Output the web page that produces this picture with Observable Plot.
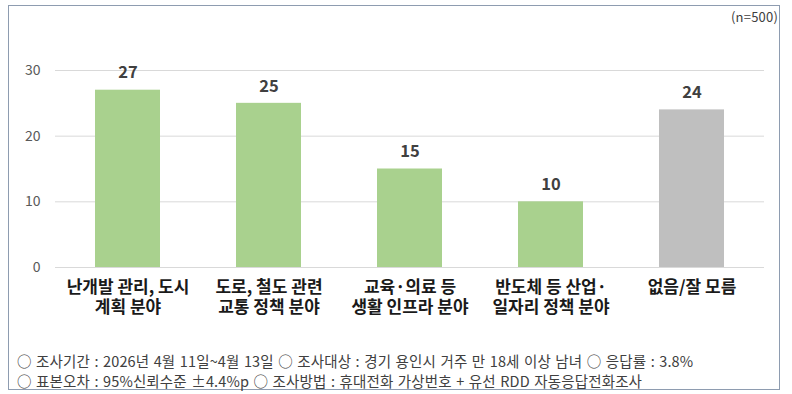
<!DOCTYPE html>
<html>
<head>
<meta charset="utf-8">
<script src="https://cdn.jsdelivr.net/npm/d3@7"></script>
<script src="https://cdn.jsdelivr.net/npm/@observablehq/plot@0.6"></script>
<style>
  html, body { margin: 0; padding: 0; background: #fff; }
  body { width: 792px; height: 394px; position: relative; overflow: hidden;
         font-family: "Noto Sans CJK KR", "Noto Sans", sans-serif; }
  #frame { position: absolute; left: 8px; top: 5px; width: 770px; height: 383px;
           border: 1.5px solid #8e9cb0; box-sizing: content-box; }
  #chart { position: absolute; left: 0; top: 0; }
  #n { position: absolute; right: 14px; top: 7px; font-size: 13px; color: #404040; letter-spacing: 0.2px; }
  .foot { position: absolute; left: 17px; font-size: 14.5px; color: #404040; white-space: nowrap;
          letter-spacing: 0.15px; word-spacing: 1px; line-height: 20px; }
</style>
</head>
<body>
<div id="frame"></div>
<div id="chart"></div>
<div id="n"></div>
<div class="foot" id="f1" style="top:351px"></div>
<div class="foot" id="f2" style="top:371px"></div>
<script>
const categories = [
  "난개발 관리, 도시\n계획 분야",
  "도로, 철도 관련\n교통 정책 분야",
  "교육·의료 등\n생활 인프라 분야",
  "반도체 등 산업·\n일자리 정책 분야",
  "없음/잘 모름"
];
const values = [27, 25, 15, 10, 24];
const yTicks = [0, 10, 20, 30];
const sampleNote = "(n=500)";
const footLines = [
  "○ 조사기간 : 2026년 4월 11일~4월 13일 ○ 조사대상 : 경기 용인시 거주 만 18세 이상 남녀 ○ 응답률 : 3.8%",
  "○ 표본오차 : 95%신뢰수준 ±4.4%p ○ 조사방법 : 휴대전화 가상번호 + 유선 RDD 자동응답전화조사"
];

const data = categories.map((c, i) => ({category: c, value: values[i]}));
const fillOf = d => d.category === "없음/잘 모름" ? "#bfbfbf" : "#a9d18e";

const chart = Plot.plot({
  width: 792,
  height: 340,
  marginLeft: 55,
  marginRight: 28,
  marginTop: 70,
  marginBottom: 73,
  style: {fontFamily: '"Noto Sans CJK KR", "Noto Sans", sans-serif', background: "transparent"},
  x: {domain: categories, paddingInner: 0.54, paddingOuter: 0.27, axis: null},
  y: {domain: [0, 30], ticks: yTicks, axis: null},
  marks: [
    Plot.ruleY(yTicks, {stroke: "#d9d9d9", strokeWidth: 1}),
    Plot.axisY(yTicks, {tickSize: 0, tickPadding: 15, fontSize: 14, fill: "#595959", label: null}),
    Plot.barY(data, {x: "category", y: "value", fill: fillOf}),
    Plot.text(data, {x: "category", y: "value", text: d => String(d.value), dy: -17,
      fontSize: 16.5, fontWeight: "bold", fill: "#404040"}),
    Plot.text(data, {x: "category", y: () => 0, text: "category", lineAnchor: "top", dy: 11,
      fontSize: 17, fontWeight: "bold", fill: "#1a1a1a", lineHeight: 1.2})
  ]
});
document.getElementById("chart").appendChild(chart);
document.getElementById("n").textContent = sampleNote;
document.getElementById("f1").textContent = footLines[0];
document.getElementById("f2").textContent = footLines[1];
</script>
</body>
</html>
